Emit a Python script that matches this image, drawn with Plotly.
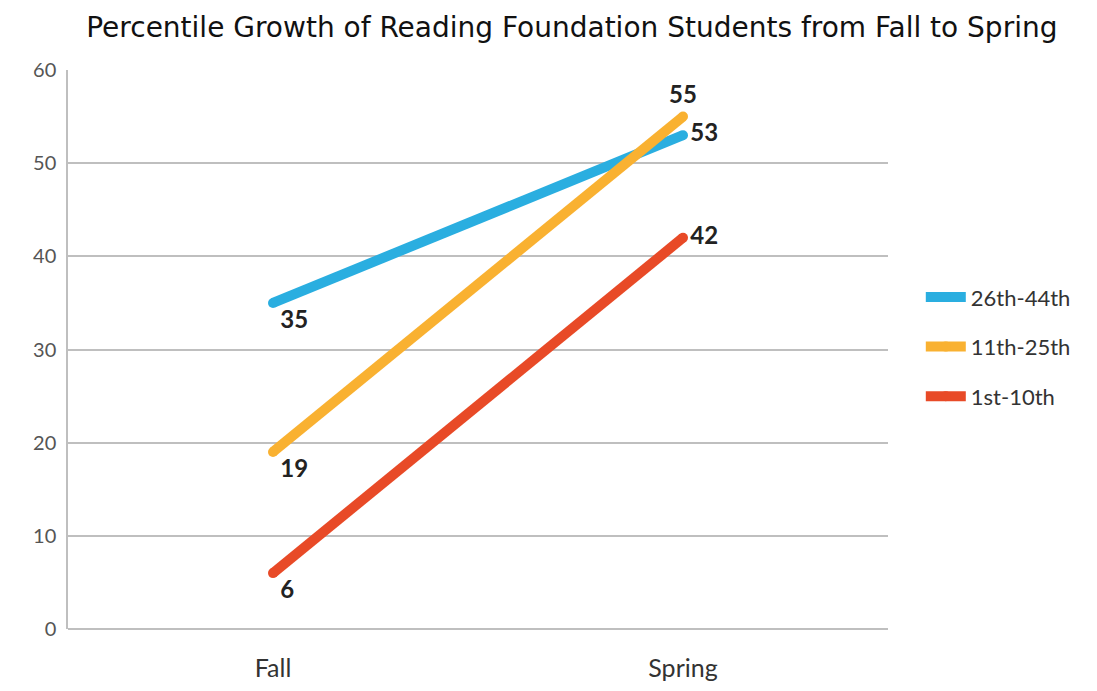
import plotly.graph_objects as go

title = "Percentile Growth of Reading Foundation Students from Fall to Spring"
seasons = ["Fall", "Spring"]
series_names = ["26th-44th", "11th-25th", "1st-10th"]
blue_vals = [35, 53]
orange_vals = [19, 55]
red_vals = [6, 42]
y_ticks = [0, 10, 20, 30, 40, 50, 60]

colors = ["#2AAEE0", "#F9B131", "#E84A27"]
text_positions = [
    ["bottom right", "middle right"],
    ["bottom right", "top center"],
    ["bottom right", "middle right"],
]

fig = go.Figure()
for i, (name, vals) in enumerate(zip(series_names, [blue_vals, orange_vals, red_vals])):
    fig.add_trace(go.Scatter(
        x=seasons, y=vals, name=name, mode="lines+markers+text",
        line=dict(color=colors[i], width=10),
        marker=dict(color=colors[i], size=10),
        text=[str(v) for v in vals],
        textposition=text_positions[i],
        textfont=dict(family="Lato, Open Sans, sans-serif", size=24, color="#222222", weight="bold"),
        legendgroup=name,
        cliponaxis=False,
    ))

fig.update_layout(
    width=1097, height=691,
    paper_bgcolor="white", plot_bgcolor="white",
    margin=dict(l=60, r=217, t=62, b=70),
    title=dict(text=title, x=0.514, xanchor="center", xref="container",
               y=1 - 19 / 691, yref="container", yanchor="middle",
               font=dict(family="DejaVu Sans", size=28, color="#111111")),
    showlegend=True,
    legend=dict(x=1.04, y=0.505, xanchor="left", yanchor="middle",
                font=dict(family="Lato, Open Sans, sans-serif", size=22, color="#333333"),
                tracegroupgap=18, itemwidth=40, bgcolor="rgba(0,0,0,0)"),
    xaxis=dict(type="category", range=[-0.5, 1.5], showgrid=False,
               showline=False, zeroline=False, ticks="", ticklabelstandoff=22,
               tickfont=dict(family="Lato, Open Sans, sans-serif", size=25, color="#333333")),
    yaxis=dict(range=[0, 60], tickvals=y_ticks, showgrid=True, gridcolor="#BFBFBF", gridwidth=1.5,
               zeroline=True, zerolinecolor="#BFBFBF", zerolinewidth=1.5,
               showline=True, linecolor="#BFBFBF", linewidth=1.5, ticks="", ticklen=0,
               ticklabelstandoff=6,
               tickfont=dict(family="Lato, Open Sans, sans-serif", size=20, color="#555555")),
)

fig.write_html("out.html")
